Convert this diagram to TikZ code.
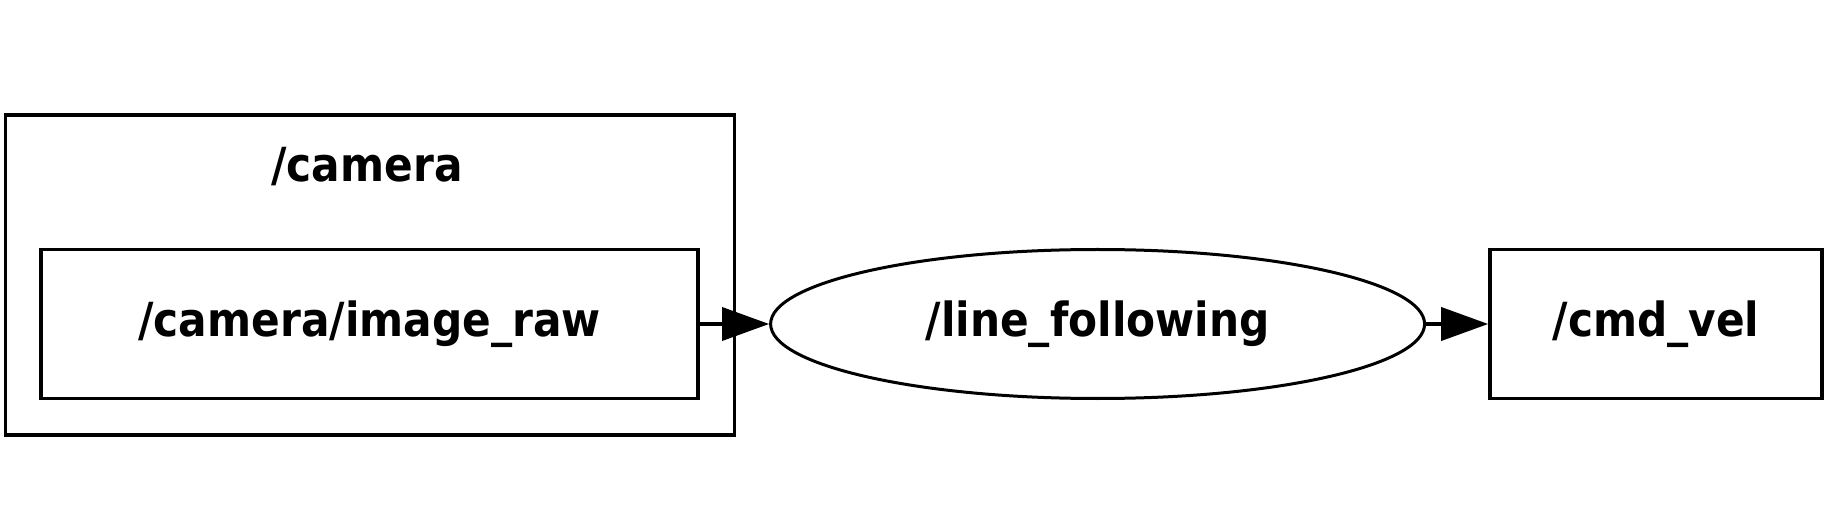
\documentclass[tikz,border=0pt]{standalone}
\usepackage{fontspec}
\setmainfont{DejaVu Sans Condensed}
\usetikzlibrary{arrows.meta,positioning,shapes.geometric}

\begin{document}
\begin{tikzpicture}[
    x=1pt, y=-1pt,
    line width=3.6pt,
    font=\fontsize{47}{54}\selectfont\bfseries,
    topic/.style={
      draw, rectangle, minimum height=149pt, inner sep=0pt
    },
    nodebox/.style={
      draw, ellipse, minimum width=654pt, minimum height=149pt, inner sep=0pt
    },
    cluster/.style={draw, rectangle, minimum width=729pt, minimum height=320pt},
    arr/.style={-{Triangle[length=47pt,width=33pt]}, line width=3.6pt}
  ]
    \useasboundingbox (0,0) rectangle (1828,518);

    \node[cluster] (camera) at (370,275) {};
    \node (cameralbl) at (367,167) {/camera};
    \node[topic,minimum width=657pt] (imgraw) at (369.5,324) {/camera/image\_raw};
    \node[nodebox,line width=3pt] (linefol) at (1097.6,324) {/line\_following};
    \node[topic,minimum width=332pt] (cmdvel) at (1656,324) {/cmd\_vel};

    \draw[arr] (imgraw) -- (linefol);
    \draw[arr] (linefol) -- (cmdvel);
  \end{tikzpicture}
\end{document}
